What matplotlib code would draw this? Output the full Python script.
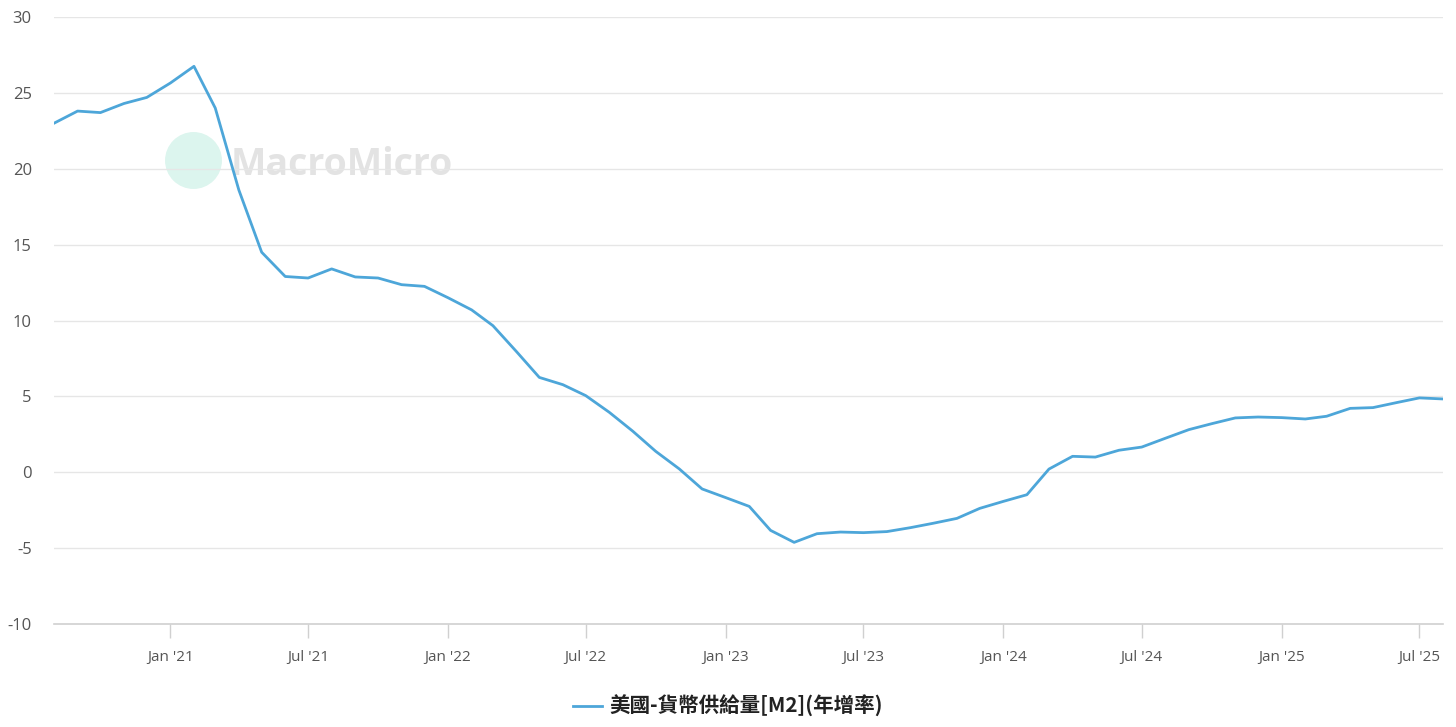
import matplotlib

matplotlib.use("Agg")
import matplotlib.dates as mdates
import matplotlib.pyplot as plt
import pandas as pd

# monthly M2 year-over-year growth, Aug 2020 .. Aug 2025 (%)
start_month = "2020-08-01"
m2_yoy = [
    23.0, 23.8, 23.7, 24.3, 24.7,
    25.65, 26.75, 24.0, 18.6, 14.5, 12.9, 12.8, 13.4, 12.87, 12.8, 12.36, 12.25,
    11.5, 10.7, 9.66, 7.95, 6.25, 5.77, 5.05, 3.95, 2.7, 1.38, 0.22, -1.1,
    -1.67, -2.25, -3.83, -4.62, -4.05, -3.94, -3.98, -3.91, -3.65, -3.36, -3.04, -2.38,
    -1.92, -1.48, 0.21, 1.05, 1.0, 1.45, 1.66, 2.24, 2.81, 3.2, 3.58, 3.64,
    3.6, 3.51, 3.69, 4.21, 4.26, 4.59, 4.9, 4.83,
]
series_name = "美國-貨幣供給量[M2](年增率)"
y_ticks = [-10, -5, 0, 5, 10, 15, 20, 25, 30]

LINE = "#4da6d9"
GRID = "#e6e6e6"
LABEL = "#555555"

plt.rcParams["axes.unicode_minus"] = False

dates = pd.date_range(start_month, periods=len(m2_yoy), freq="MS")

fig = plt.figure(figsize=(14.56, 7.27), dpi=100)
ax = fig.add_axes([54 / 1456, 1 - 624 / 727, (1443 - 54) / 1456, (624 - 17) / 727])

# watermark
ax.plot([0.1], [0.765], "o", ms=41, color="#dcf5ee", mec="none", transform=ax.transAxes, zorder=0)
ax.text(0.127, 0.757, "MacroMicro", transform=ax.transAxes, fontsize=27, fontweight="bold",
        family="Open Sans", color="#e3e3e3", va="center", ha="left", zorder=0)

ax.plot(dates, m2_yoy, color=LINE, lw=2.0, label=series_name, zorder=3, solid_joinstyle="round")

ax.set_ylim(-10, 30)
ax.set_yticks(y_ticks)
ax.set_xlim(dates[0], dates[-1])
ax.xaxis.set_major_locator(mdates.MonthLocator(bymonth=[1, 7]))
ax.xaxis.set_major_formatter(mdates.DateFormatter("%b '%y"))

ax.grid(axis="y", color=GRID, lw=1)
ax.set_axisbelow(True)
for side in ("top", "right", "left"):
    ax.spines[side].set_visible(False)
ax.spines["bottom"].set_color("#d0d0d0")
ax.spines["bottom"].set_linewidth(1.2)

ax.tick_params(axis="y", length=0, pad=16, labelsize=12, labelcolor=LABEL)
ax.tick_params(axis="x", length=10, width=1, color="#d0d0d0", pad=9, labelsize=11, labelcolor=LABEL)
for lbl in ax.get_xticklabels() + ax.get_yticklabels():
    lbl.set_family("Open Sans")

leg = fig.legend(loc="lower center", bbox_to_anchor=(0.5, -0.012), frameon=False, handlelength=1.4,
                 handletextpad=0.4, prop={"family": ["Noto Sans CJK TC", "DejaVu Sans"],
                                          "weight": "bold", "size": 14.8})
for t in leg.get_texts():
    t.set_color("#222222")

fig.savefig("out.png", dpi=100)
